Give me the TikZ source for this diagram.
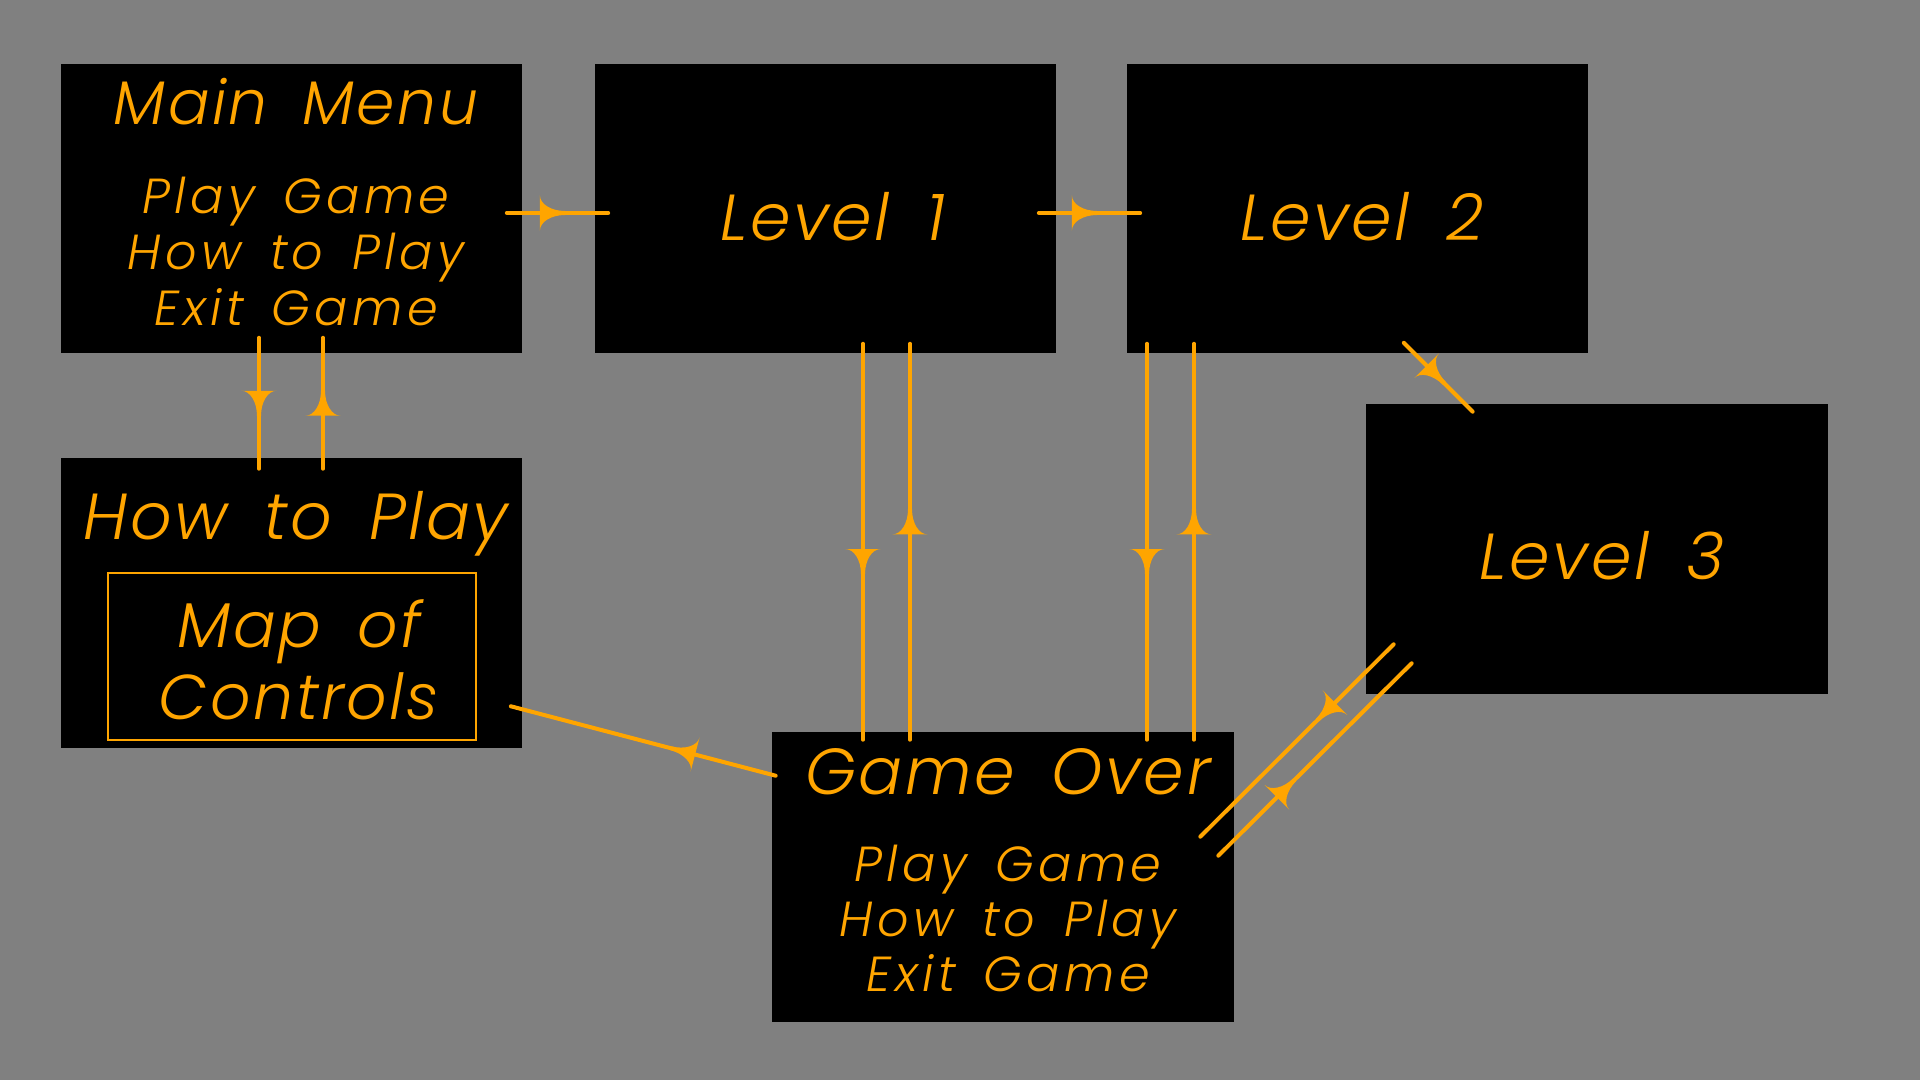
\documentclass[tikz,border=0pt]{standalone}
\usepackage{fontspec}
\usetikzlibrary{positioning,calc,decorations.markings}

\newfontfamily\menufont{Poppins}[UprightFont=* Light Italic, LetterSpace=9, WordSpace=1.5]
\newfontfamily\titlefont{Poppins}[UprightFont=* Light Italic, LetterSpace=4, WordSpace=1.7]

\definecolor{menuorange}{HTML}{FFA500}
\definecolor{backgray}{HTML}{808080}

\tikzset{
  stage/.style={fill=black, inner sep=0pt, minimum width=4.61cm, minimum height=2.89cm},
  label/.style={text=menuorange, anchor=base, inner sep=0pt},
  title/.style={label, font=\titlefont\fontsize{18.5}{22}\selectfont},
  item/.style={label, font=\menufont\fontsize{14}{17}\selectfont},
  flow/.style={draw=menuorange, line width=1.14pt, line cap=round},
  flowmark/.style={postaction={decorate, decoration={markings,
    mark=at position #1 with {\fill[menuorange] (-3.55pt,-4.98pt) -- (-3.55pt,4.98pt)
      .. controls (-3.55pt,2.54pt) and (-0.36pt,0.57pt) .. (3.56pt,0.57pt) -- (3.56pt,-0.57pt)
      .. controls (-0.36pt,-0.57pt) and (-3.55pt,-2.54pt) .. cycle;}}}}
}

\begin{document}
\begin{tikzpicture}[x=0.01cm, y=-0.01cm]
\fill[backgray] (0,0) rectangle (1920,1080);
\useasboundingbox (0,0) rectangle (1920,1080);

% screens
\node[stage] (mm) at (291.5,208.5) {};
\node[stage] (lone) at (825.5,208.5) {};
\node[stage] (ltwo) at (1357.5,208.5) {};
\node[stage] (lthree) at (1597,549) {};
\node[stage] (htp) at (291.5,603) {};
\node[stage] (go) at (1003,877) {};
\node[draw=menuorange, line width=0.57pt, inner sep=0pt, minimum width=3.68cm, minimum height=1.67cm] (ctrl) at (292,656.5) {};

% texts
\node[title, font=\titlefont\fontsize{17.5}{21}\selectfont] (mmtitle) at ($(mm.north)+(4.5,61)$) {Main Menu};
\foreach \txt [count=\i] in {Play Game, How to Play, Exit Game}
  \node[item] (mmitem\i) at ($(mm.north)+(4.5,94+56*\i)$) {\txt};
\node[title] (lonetitle) at ($(lone.center)+(7.5,32.5)$) {Level 1};
\node[title] (ltwotitle) at ($(ltwo.center)+(4.5,32.5)$) {Level 2};
\node[title] (lthreetitle) at ($(lthree.center)+(5,31)$) {Level 3};
\node[title] (htptitle) at ($(htp.north)+(4.5,82)$) {How to Play};
\node[title, font=\titlefont\fontsize{18}{22}\selectfont] (ctrlone) at ($(ctrl.center)+(7,-8.5)$) {Map of};
\node[title, font=\titlefont\fontsize{18}{22}\selectfont] (ctrltwo) at ($(ctrl.center)+(7,63.5)$) {Controls};
\node[title] (gotitle) at ($(go.north)+(5,63)$) {Game Over};
\foreach \txt [count=\i] in {Play Game, How to Play, Exit Game}
  \node[item] (goitem\i) at ($(go.north)+(5,95+55*\i)$) {\txt};

% transitions
\draw[flow, flowmark=0.45] ($(mm.east)+(-16,4.5)$) -- ($(lone.west)+(14,4.5)$);
\draw[flow, flowmark=0.45] ($(lone.east)+(-18,4.5)$) -- ($(ltwo.west)+(14,4.5)$);
\draw[flow, flowmark=0.5] ($(mm.south)+(-32.5,-16)$) -- ($(htp.north)+(-32.5,11)$);
\draw[flow, flowmark=0.5] ($(htp.north)+(31.5,11)$) -- ($(mm.south)+(31.5,-16)$);
\draw[flow, flowmark=0.55] ($(lone.south)+(37.5,-10)$) -- ($(go.north)+(-140,8)$);
\draw[flow, flowmark=0.55] ($(go.north)+(-93,8)$) -- ($(lone.south)+(84.5,-10)$);
\draw[flow, flowmark=0.55] ($(ltwo.south)+(-210.5,-10)$) -- ($(go.north)+(144,8)$);
\draw[flow, flowmark=0.55] ($(go.north)+(191,8)$) -- ($(ltwo.south)+(-163.5,-10)$);
\draw[flow, flowmark=0.46] ($(ltwo.south east)+(-185,-11)$) -- ($(lthree.north west)+(107,8)$);
\draw[flow, flowmark=0.35] ($(lthree.south west)+(28,-50)$) -- ($(go.north east)+(-34,105)$);
\draw[flow, flowmark=0.35] ($(go.north east)+(-16,124)$) -- ($(lthree.south west)+(46,-31)$);
\draw[flow, flowmark=0.35] ($(go.north west)+(4,44)$) -- ($(htp.south east)+(-12,-42)$);
\end{tikzpicture}
\end{document}
